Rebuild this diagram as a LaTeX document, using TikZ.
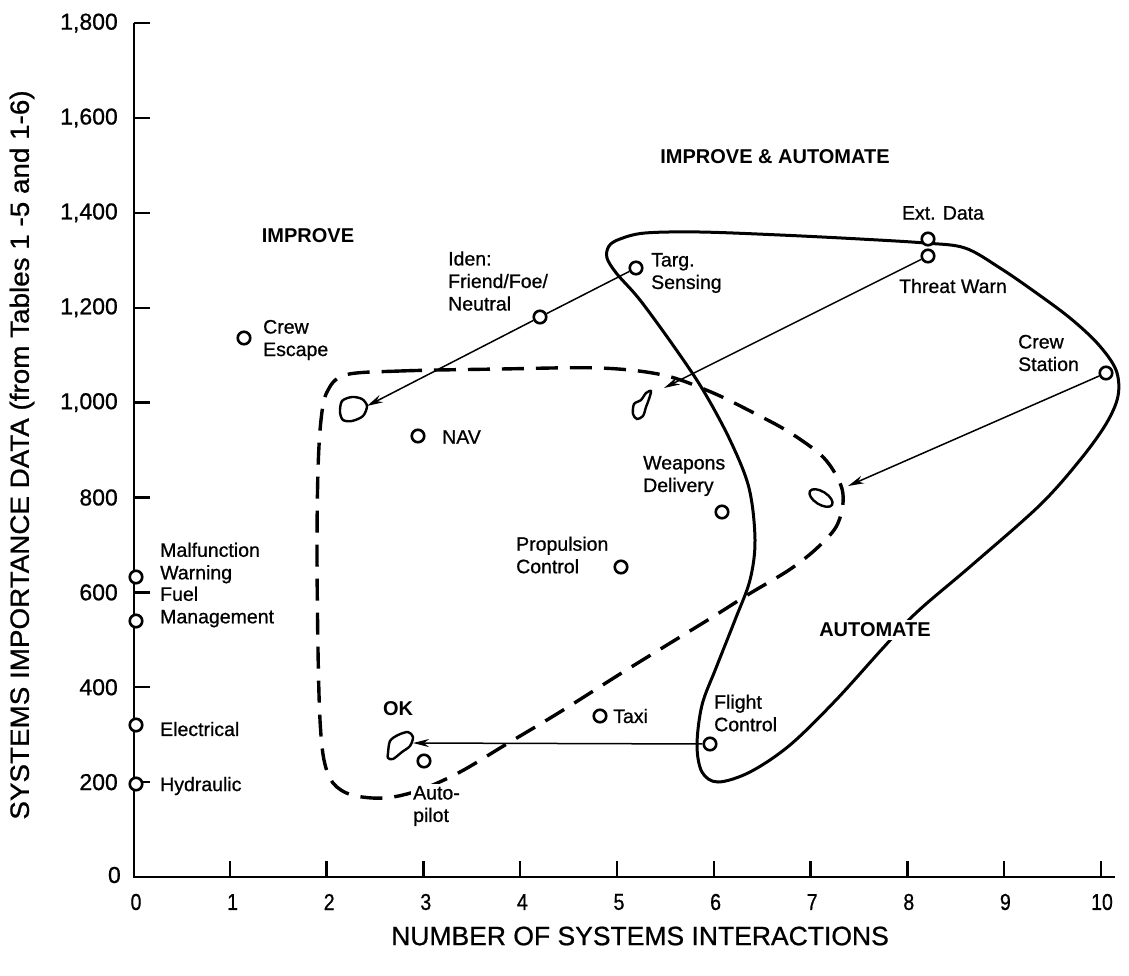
\documentclass[tikz,border=0pt]{standalone}
\usepackage{fontspec}
\setmainfont{Liberation Sans}
\newfontfamily\medfont{Liberation Sans}[FakeBold=0.8]
\usetikzlibrary{arrows.meta}
\begin{document}
\begin{tikzpicture}[x=1pt,y=-1pt,
  pt/.style={circle,draw,line width=2.6pt,minimum size=12.5pt,inner sep=0pt,fill=white},
  lbl/.style={font=\medfont\fontsize{19.5}{22.5}\selectfont,align=left,inner sep=0pt},
  region/.style={font=\bfseries\fontsize{20}{24}\selectfont,inner sep=1pt},
  ticklab/.style={font=\medfont\fontsize{23}{27}\selectfont,inner sep=0pt},
  axisline/.style={line width=2.4pt},
  conn/.style={line width=1.5pt,-{Stealth[length=16pt,width=8pt]}},
  plainconn/.style={line width=1.5pt},
  bound/.style={line width=3pt},
  dsh/.style={line width=3.4pt,dash pattern=on 22pt off 12pt},
  blob/.style={line width=2.4pt},
  title/.style={font=\medfont\fontsize{26.5}{30}\selectfont,inner sep=0pt}
]
\useasboundingbox (0,0) rectangle (1129,975);

% axes
\coordinate (o) at (134,877);
\coordinate (ytop) at (134,23);
\coordinate (xend) at (1115,877);
\draw[axisline] (ytop) -- (o) -- (xend);
\foreach \n in {1,...,10} {
  \pgfmathsetmacro\xx{133+96.8*\n}
  \draw[axisline] (\xx,877) -- (\xx,861);
}
\foreach \n in {0,...,10} {
  \pgfmathsetmacro\xx{136+96.6*\n}
  \node[ticklab] (xt\n) at (\xx,902) {\scalebox{0.85}[1]{\n}};
}
\foreach \v/\lab in {200/200,400/400,600/600,800/800,1000/{1,000},1200/{1,200},1400/{1,400},1600/{1,600},1800/{1,800}} {
  \pgfmathsetmacro\yy{877-0.4744*\v}
  \draw[axisline] (134,\yy) -- (150,\yy);
  \node[ticklab,anchor=east] (yt\v) at (118,\yy) {\lab};
}
\node[ticklab,anchor=east] (yt0) at (121,875) {0};

\node[title] (xtitle) at (640,936) {NUMBER OF SYSTEMS INTERACTIONS};
\node[title,rotate=90] (ytitle) at (22,455) {\scalebox{1.05}[1]{SYSTEMS IMPORTANCE DATA (from Tables 1 -5 and 1-6)}};

% boundary curves
\draw[bound] plot[smooth cycle,tension=0.55] coordinates {
 (620,239) (645,233) (700,232) (780,235) (860,239) (925,243) (965,248)
 (1000,268) (1035,292) (1070,318) (1098,344) (1116,370) (1118,396) (1106,424)
 (1080,460) (1040,505) (972,565) (917,612) (883,648) (836,700) (790,745)
 (750,772) (718,782) (702,772) (697,745) (702,705) (716,668) (735,620)
 (750,580) (755,540) (749,488) (730,440) (703,390) (675,348) (640,300)
 (617,274) (607,258) (609,246)};
\draw[dsh] plot[smooth cycle,tension=0.55] coordinates {
 (345,375) (400,371) (500,369) (600,368) (663,375) (711,392) (752,412)
 (789,432) (823,457) (840,483) (843,503) (836,527) (816,549) (789,570)
 (749,594) (711,618) (667,645) (620,674) (560,712) (505,745) (460,772)
 (420,790) (385,798) (352,795) (333,783) (324,760) (320,720) (318,650)
 (317,550) (318,470) (321,420) (327,392)};

% blobs (target positions)
\draw[blob] plot[smooth cycle] coordinates {(340,412) (342,401) (352,397) (362,399) (367,406) (363,416) (352,421) (343,420)};
\draw[blob] plot[smooth cycle] coordinates {(633,414) (634,404) (641,400) (646,393) (651,391) (649,399) (646,407) (643,416) (637,419)};
\draw[blob,rotate around={-32:(821,498)}] (821,498) ellipse (13pt and 6.5pt);
\draw[blob] plot[smooth cycle] coordinates {(388,753) (390,741) (398,735) (408,732) (413,737) (410,746) (402,752) (393,759) (388,758)};
\coordinate (blobL) at (367,406);
\coordinate (blobM) at (664,388);
\coordinate (blobR) at (848,486);
\coordinate (blobOK) at (413,743);

% data points
\node[pt] (crewesc) at (244,338) {};
\node[pt] (nav) at (418,436) {};
\node[pt] (iden) at (540,317) {};
\node[pt] (targ) at (636,268) {};
\node[pt] (extdata) at (928,239) {};
\node[pt] (threat) at (928,256) {};
\node[pt] (crewst) at (1106,373) {};
\node[pt] (weapons) at (722,512) {};
\node[pt] (prop) at (621,567) {};
\node[pt] (taxi) at (600,716) {};
\node[pt] (flight) at (710,744) {};
\node[pt] (auto) at (424,761) {};
\node[pt] (malf) at (136,577) {};
\node[pt] (fuel) at (136,621) {};
\node[pt] (elec) at (136,725) {};
\node[pt] (hyd) at (136,784) {};

% connectors
\draw[plainconn] (targ) -- (iden);
\draw[conn] (iden) -- (blobL);
\draw[conn] (threat) -- (blobM);
\draw[conn] (crewst) -- (blobR);
\draw[conn] (flight) -- (blobOK);

% labels
\node[lbl,anchor=west] (lcrewesc) at (263,340) {Crew\\Escape};
\node[lbl,anchor=west] (lnav) at (442,437) {NAV};
\node[lbl,anchor=west] (liden) at (448,281) {Iden:\\Friend/Foe/\\Neutral};
\node[lbl,anchor=west] (ltarg) at (651,273) {Targ.\\Sensing};
\node[lbl] (lext) at (943,213) {Ext. Data};
\node[lbl] (lthreat) at (953,286) {Threat Warn};
\node[lbl,anchor=west] (lcrewst) at (1018,353) {Crew\\Station};
\node[lbl,anchor=west] (lweap) at (643,476) {Weapons\\Delivery};
\node[lbl,anchor=west] (lprop) at (516,555) {Propulsion\\Control};
\node[lbl,anchor=west] (lmalf) at (160,563) {Malfunction\\Warning};
\node[lbl,anchor=west] (lfuel) at (160,607) {Fuel\\Management};
\node[lbl,anchor=west] (lelec) at (160,729) {Electrical};
\node[lbl,anchor=west] (lhyd) at (160,786) {Hydraulic};
\node[lbl,anchor=west] (ltaxi) at (613,716) {Taxi};
\node[lbl,anchor=west] (lflight) at (714,713) {Flight\\Control};
\node[lbl,anchor=west,fill=white,inner sep=2pt] (lauto) at (411,806) {Auto-\\pilot};

\node[region] (rok) at (398,709) {OK};
\node[region] (rimp) at (308,236) {IMPROVE};
\node[region] (rimpaut) at (775,157) {IMPROVE \& AUTOMATE};
\node[region,fill=white,inner sep=3pt] (raut) at (875,630) {AUTOMATE};
\end{tikzpicture}
\end{document}
